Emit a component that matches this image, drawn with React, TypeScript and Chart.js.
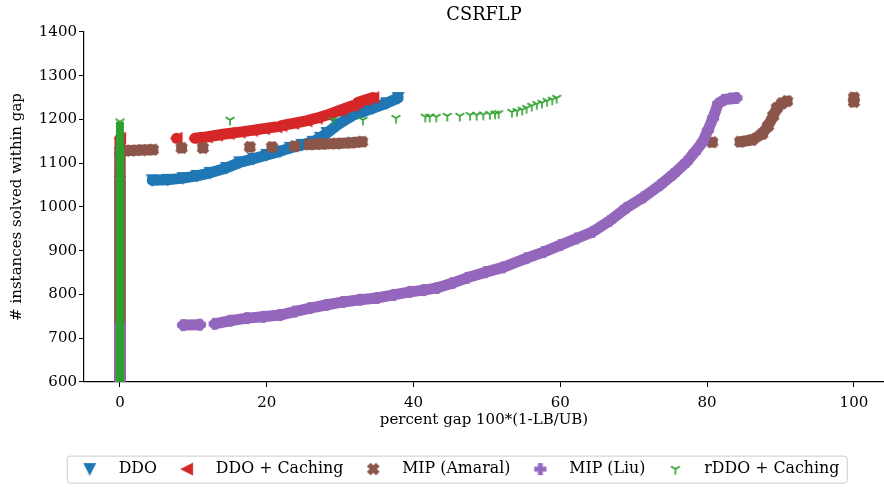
import React, { useEffect, useRef } from 'react';
import { Chart, registerables } from 'chart.js';

Chart.register(...registerables);

type Pt = [number, number] | null;

const chartTitle = 'CSRFLP';
const xAxisLabel = 'percent gap 100*(1-LB/UB)';
const yAxisLabel = '# instances solved within gap';
const xTickValues = [0, 20, 40, 60, 80, 100];
const yTickValues = [600, 700, 800, 900, 1000, 1100, 1200, 1300, 1400];
const seriesNames = ['DDO', 'DDO + Caching', 'MIP (Amaral)', 'MIP (Liu)', 'rDDO + Caching'];
const seriesColors = ['#1f77b4', '#d62728', '#8c564b', '#9467bd', '#2ca02c'];

// DDO (cumulative count vs gap), null = break in the curve
const ddoPoints: Pt[] = [
  [0, 0], [0, 1058], null,
  [4.4, 1061], [6.5, 1062], [8.6, 1066], [10.5, 1071], [12.3, 1078], [14.5, 1089],
  [16.3, 1102], [18.2, 1110], [20.0, 1119], [21.8, 1127], [23.2, 1135], [24.8, 1142],
  [26.3, 1149], [27.3, 1158], [28.2, 1169], [29.6, 1187], [30.8, 1200], [31.8, 1210],
  [33.2, 1218], [34.5, 1226], [36.3, 1237], [37.9, 1249],
];

const ddoCachingPoints: Pt[] = [
  [0, 0], [0, 1157], null,
  [7.7, 1157], null,
  [10.2, 1157], [11.8, 1160], [13.2, 1164], [14.8, 1168], [16.3, 1171], [18.0, 1175],
  [19.6, 1179], [21.3, 1183], null,
  [22.0, 1186], [23.6, 1191], [25.4, 1197], [26.8, 1203], [28.2, 1210], [30.0, 1221],
  [31.8, 1232], null,
  [32.4, 1239], [33.5, 1245], [34.5, 1250],
];

const mipAmaralPoints: Pt[] = [
  [0, 0], [0, 1128], [1.5, 1129], [3.0, 1130], [4.5, 1131], null,
  [8.4, 1135], null,
  [11.3, 1135], null,
  [17.7, 1137], null,
  [20.7, 1137], null,
  [23.8, 1139], null,
  [25.8, 1143], [27.5, 1144], [29.5, 1145], [31.5, 1147], [33.0, 1149], null,
  [80.7, 1148], null,
  [84.5, 1149], [86.1, 1153], [87.5, 1167], [88.3, 1185], [89.0, 1208], [89.5, 1226],
  [90.2, 1237], [90.9, 1242], null,
  [100, 1240], [100, 1250],
];

const mipLiuPoints: Pt[] = [
  [0, 0], [0, 728], null,
  [8.6, 730], [10.9, 731], null,
  [12.9, 733], [15.0, 740], [17.3, 746], [19.5, 749], [21.8, 753], [23.8, 761],
  [25.9, 769], [28.1, 776], [30.4, 783], [32.7, 788], [35.0, 792], [37.3, 799],
  [39.5, 806], [41.4, 810], [43.2, 815], [45.3, 826], [47.3, 838], [49.8, 851],
  [52.2, 862], [55.4, 883], [57.7, 897], [60.0, 913], [62.2, 928], [64.4, 943],
  [66.7, 968], [69.0, 998], [71.3, 1022], [73.6, 1050], [75.4, 1075], [77.2, 1103],
  [78.3, 1125], [79.4, 1149], [80.1, 1175], [80.8, 1203], [81.5, 1236], [82.3, 1245],
  [83.2, 1248], [84.0, 1249],
];

const rddoCachingColumn: Pt[] = [[0, 0], [0, 1195]];

const rddoCachingPoints: Pt[] = [
  [15.0, 1199], [29.0, 1199], [33.1, 1199], [37.6, 1203], [41.6, 1206], [42.2, 1206],
  [43.1, 1206], [44.6, 1208], [46.3, 1208], [47.7, 1210], [48.6, 1210], [49.5, 1211],
  [50.4, 1212], [51.1, 1213], [51.6, 1214], [53.4, 1217], [54.1, 1219], [54.8, 1222],
  [55.4, 1226], [56.1, 1231], [56.8, 1235], [57.5, 1238], [58.2, 1242], [58.9, 1245],
  [59.5, 1249],
];

const FONT = "'DejaVu Serif', serif";

function makeMarker(kind: string, color: string): HTMLCanvasElement {
  const c = document.createElement('canvas');
  c.width = 18;
  c.height = 18;
  const g = c.getContext('2d') as CanvasRenderingContext2D;
  const S = 11;
  const cx = 9;
  const cy = 9;
  g.fillStyle = color;
  g.strokeStyle = color;
  g.lineWidth = 1.2;
  g.lineJoin = 'miter';
  const poly = (pts: number[][]) => {
    g.beginPath();
    pts.forEach(([a, b], i) => {
      if (i === 0) g.moveTo(cx + a * S, cy + b * S);
      else g.lineTo(cx + a * S, cy + b * S);
    });
    g.closePath();
    g.fill();
    g.stroke();
  };
  if (kind === 'v') poly([[-0.5, -0.5], [0.5, -0.5], [0, 0.5]]);
  else if (kind === '<') poly([[-0.5, 0], [0.5, -0.5], [0.5, 0.5]]);
  else if (kind === 'X')
    poly([[-1, -2], [0, -1], [1, -2], [2, -1], [1, 0], [2, 1], [1, 2], [0, 1], [-1, 2], [-2, 1], [-1, 0], [-2, -1]].map(([a, b]) => [a / 4, b / 4]));
  else if (kind === 'P')
    poly([[-1, -3], [1, -3], [1, -1], [3, -1], [3, 1], [1, 1], [1, 3], [-1, 3], [-1, 1], [-3, 1], [-3, -1], [-1, -1]].map(([a, b]) => [a / 6, b / 6]));
  else {
    g.lineWidth = 1.6;
    g.beginPath();
    g.moveTo(cx, cy);
    g.lineTo(cx, cy + 0.5 * S);
    g.moveTo(cx, cy);
    g.lineTo(cx - 0.4 * S, cy - 0.25 * S);
    g.moveTo(cx, cy);
    g.lineTo(cx + 0.4 * S, cy - 0.25 * S);
    g.stroke();
  }
  return c;
}

const toData = (pts: Pt[]) => pts.map((p) => (p ? { x: p[0], y: p[1] } : { x: null, y: null }));

const legendFramePlugin = {
  id: 'legendFrame',
  afterDraw(chart: any) {
    const lg = chart.legend;
    if (!lg || !lg.legendHitBoxes || !lg.legendHitBoxes.length) return;
    const hb = lg.legendHitBoxes;
    const first = hb[0];
    const last = hb[hb.length - 1];
    const mid = first.top + first.height / 2;
    const l = first.left - 1.5;
    const r = last.left + last.width + 8;
    const t = mid - 13;
    const b = mid + 14;
    const rad = 3;
    const ctx = chart.ctx;
    ctx.save();
    ctx.strokeStyle = '#cccccc';
    ctx.lineWidth = 1;
    ctx.beginPath();
    ctx.moveTo(l + rad, t);
    ctx.lineTo(r - rad, t);
    ctx.arcTo(r, t, r, t + rad, rad);
    ctx.lineTo(r, b - rad);
    ctx.arcTo(r, b, r - rad, b, rad);
    ctx.lineTo(l + rad, b);
    ctx.arcTo(l, b, l, b - rad, rad);
    ctx.lineTo(l, t + rad);
    ctx.arcTo(l, t, l + rad, t, rad);
    ctx.closePath();
    ctx.stroke();
    ctx.restore();
  },
};

export default function App() {
  const ref = useRef<HTMLCanvasElement>(null);

  useEffect(() => {
    const canvas = ref.current;
    if (!canvas) return;
    const kinds = ['v', '<', 'X', 'P', '1'];
    const markers = kinds.map((k, i) => makeMarker(k, seriesColors[i]));
    const seriesPoints = [ddoPoints, ddoCachingPoints, mipAmaralPoints, mipLiuPoints, rddoCachingPoints];
    const orders = [5, 4, 3, 2, 1];

    const datasets: any[] = seriesPoints.map((pts, i) => ({
      label: seriesNames[i],
      data: toData(pts),
      showLine: i !== 4,
      spanGaps: false,
      borderColor: seriesColors[i],
      backgroundColor: seriesColors[i],
      borderWidth: 11,
      borderCapStyle: 'round',
      borderJoinStyle: 'round',
      pointStyle: markers[i],
      pointRadius: 5,
      pointHoverRadius: 5,
      pointBorderWidth: 0,
      order: orders[i],
      clip: 0,
    }));
    datasets.push({
      label: seriesNames[4],
      isColumn: true,
      data: toData(rddoCachingColumn),
      showLine: true,
      borderColor: seriesColors[4],
      backgroundColor: seriesColors[4],
      borderWidth: 8,
      borderCapStyle: 'butt',
      pointStyle: markers[4],
      pointRadius: 5,
      pointBorderWidth: 0,
      order: 0,
      clip: 0,
    });

    const tickFont = { family: FONT, size: 15 };

    const chart = new Chart(canvas, {
      type: 'scatter',
      data: { datasets },
      plugins: [legendFramePlugin],
      options: {
        responsive: false,
        animation: false,
        devicePixelRatio: 1,
        layout: { autoPadding: false, padding: { left: 24, right: 0, top: 0, bottom: 0 } },
        plugins: {
          title: {
            display: true,
            text: chartTitle,
            fullSize: false,
            color: '#000',
            font: { family: FONT, size: 17.8, weight: 'normal', lineHeight: 1.2 },
            padding: { top: 5, bottom: 5.6 },
          },
          legend: {
            position: 'bottom',
            labels: {
              usePointStyle: true,
              pointStyleWidth: 42,
              padding: 9,
              color: '#000',
              font: { family: FONT, size: 15.8 },
              filter: (item: any, data: any) => !data.datasets[item.datasetIndex].isColumn,
              sort: (a: any, b: any) => a.datasetIndex - b.datasetIndex,
            },
          },
          tooltip: { enabled: false },
        },
        scales: {
          x: {
            type: 'linear',
            min: -4.9,
            max: 104.1,
            bounds: 'data',
            afterBuildTicks: (s: any) => {
              s.ticks = xTickValues.map((v) => ({ value: v }));
            },
            afterFit: (s: any) => {
              s.height = 70.2;
              s.paddingLeft = 0;
              s.paddingRight = 0;
            },
            ticks: { color: '#000', font: tickFont, padding: 7, maxRotation: 0, callback: (v: any) => String(v) },
            grid: { drawOnChartArea: false, drawTicks: true, tickLength: 5, color: '#000', lineWidth: 1 },
            border: { display: true, color: '#000', width: 1.2 },
            title: {
              display: true,
              text: xAxisLabel,
              color: '#000',
              font: { family: FONT, size: 15, lineHeight: 1.2 },
              padding: { top: 0, bottom: 23 },
            },
          },
          y: {
            type: 'linear',
            min: 600,
            max: 1400,
            bounds: 'data',
            afterBuildTicks: (s: any) => {
              s.ticks = yTickValues.map((v) => ({ value: v }));
            },
            afterFit: (s: any) => {
              s.width = 60;
              s.paddingTop = 0;
              s.paddingBottom = 0;
            },
            ticks: { color: '#000', font: tickFont, padding: 2, callback: (v: any) => String(v) },
            grid: { drawOnChartArea: false, drawTicks: true, tickLength: 5, color: '#000', lineWidth: 1 },
            border: { display: true, color: '#000', width: 1.2 },
            title: {
              display: true,
              text: yAxisLabel,
              color: '#000',
              font: { family: FONT, size: 15, lineHeight: 1.2 },
              padding: { top: -16, bottom: 0 },
            },
          },
        },
      } as any,
    });

    return () => chart.destroy();
  }, []);

  return (
    <div style={{ position: 'absolute', left: 0, top: 0, width: 884, height: 487, background: '#fff' }}>
      <canvas ref={ref} width={884} height={487} style={{ display: 'block' }} />
    </div>
  );
}
